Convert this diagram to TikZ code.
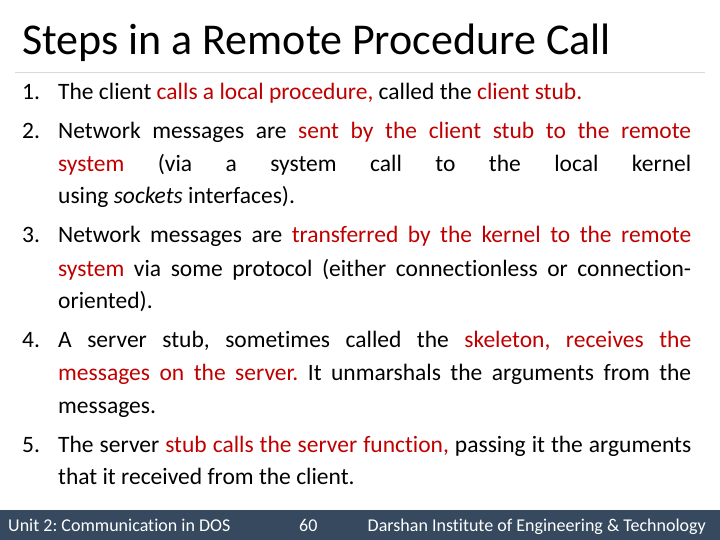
\documentclass[tikz,border=0pt]{standalone}
\usepackage{fontspec}
\setmainfont[Ligatures=NoCommon]{Carlito}
\definecolor{hl}{RGB}{192,0,0}
\definecolor{bar}{RGB}{54,73,94}
\frenchspacing
\newcommand{\R}[1]{\textcolor{hl}{#1}}
\newcommand{\jl}[1]{\hbox to 633pt{\spaceskip=.23em plus 1fil\relax #1}}
\newcommand{\lfl}[1]{\hbox to 633pt{#1\hfil}}
\begin{document}
\begin{tikzpicture}[x=1pt,y=-1pt,
  body/.style={anchor=base west,inner sep=0,font=\fontsize{23.5}{28}\selectfont},
  foot/.style={anchor=base west,inner sep=0,text=white,font=\fontsize{18}{21}\selectfont}]
\useasboundingbox (0,0) rectangle (720,540);
\fill[white] (0,0) rectangle (720,540);
\node[anchor=base west,inner sep=0,font=\fontsize{44}{50}\selectfont] (title) at (22,55) {Steps in a Remote Procedure Call};
\coordinate (la) at (15,72); \coordinate (lb) at (705,72);
\draw[black!15,line width=0.8pt] (la) -- (lb);
\node[body] (n1) at (22,100) {1.};
\node[body] (t1) at (58,100) {\lfl{The client \R{calls a local procedure,} called the \R{client stub.}}};
\node[body] (n2) at (22,139) {2.};
\node[body] (t2a) at (58,139) {\jl{Network messages are \R{sent by the client stub to the remote}}};
\node[body] (t2b) at (58,172) {\jl{\R{system} (via a system call to the local kernel}};
\node[body] (t2c) at (58,204) {\lfl{using \textit{sockets} interfaces).}};
\node[body] (n3) at (22,243) {3.};
\node[body] (t3a) at (58,243) {\jl{Network messages are \R{transferred by the kernel to the remote}}};
\node[body] (t3b) at (58,276) {\jl{\R{system} via some protocol (either connectionless or connection-}};
\node[body] (t3c) at (58,308) {\lfl{oriented).}};
\node[body] (n4) at (22,347) {4.};
\node[body] (t4a) at (58,347) {\jl{A server stub, sometimes called the \R{skeleton, receives the}}};
\node[body] (t4b) at (58,380) {\jl{\R{messages on the server.} It unmarshals the arguments from the}};
\node[body] (t4c) at (58,413) {\lfl{messages.}};
\node[body] (n5) at (22,452) {5.};
\node[body] (t5a) at (58,452) {\jl{The server \R{stub calls the server function,} passing it the arguments}};
\node[body] (t5b) at (58,484) {\lfl{that it received from the client.}};
\fill[bar] (0,510) rectangle (720,540);
\node[foot] (f1) at (8,531) {Unit 2: Communication in DOS};
\node[foot] (f2) at (299,531) {60};
\node[foot,anchor=base east] (f3) at (706,531) {Darshan Institute of Engineering \& Technology};
\end{tikzpicture}
\end{document}
